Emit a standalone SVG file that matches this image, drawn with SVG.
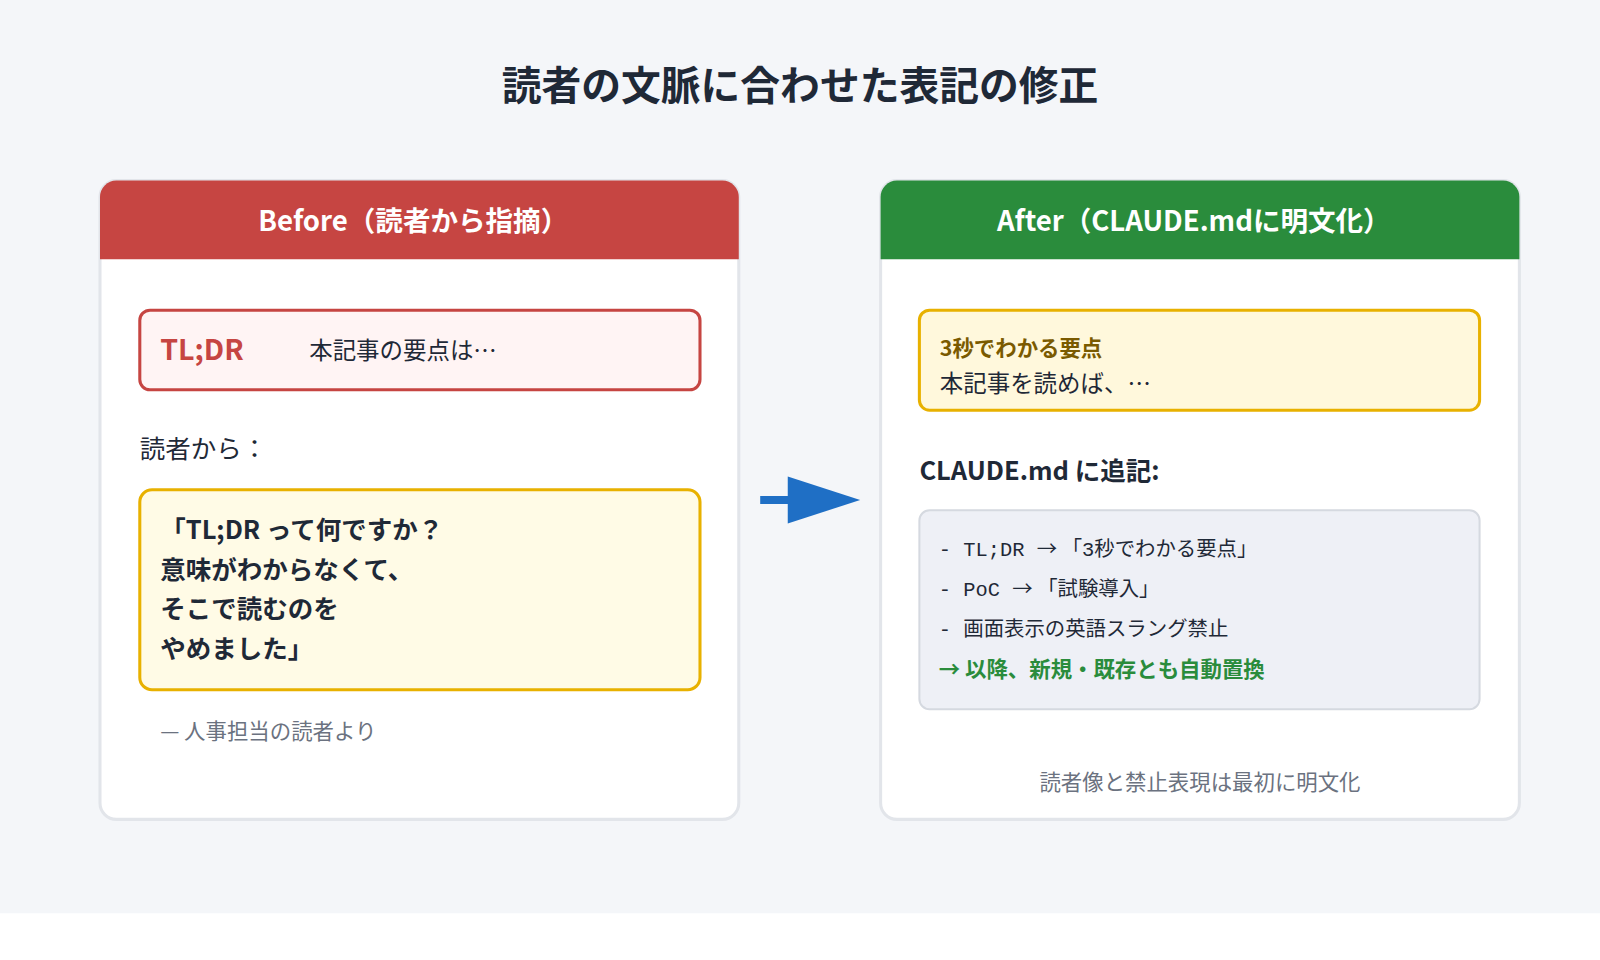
<svg xmlns="http://www.w3.org/2000/svg" width="1600" height="960" viewBox="0 0 1600 960">
<style>
text{font-family:"Noto Sans CJK JP","Noto Sans",sans-serif;fill:#1f2937}
.mono{font-family:"Liberation Mono","Noto Sans CJK JP",monospace}
.ar{font-family:"Noto Sans CJK JP",sans-serif}
.b{font-weight:700}
</style>
<rect width="1600" height="960" fill="#f4f6f9"/>
<g transform="scale(1.0204)">
<rect y="895" width="1600" height="80" fill="#ffffff"/>
<text x="784" y="98" text-anchor="middle" font-size="39" class="b">読者の文脈に合わせた表記の修正</text>
<g id="before">
<rect x="98" y="177" width="626" height="626" rx="16" fill="#fff" stroke="#e2e5ea" stroke-width="3"/>
<path d="M98 254 V193 a16 16 0 0 1 16 -16 H708 a16 16 0 0 1 16 16 V254 Z" fill="#c64542"/>
<text x="405" y="226" text-anchor="middle" font-size="27" class="b" style="fill:#fff">Before（読者から指摘）</text>
<rect x="137" y="304" width="549" height="78" rx="10" fill="#fff4f4" stroke="#c64542" stroke-width="3"/>
<text x="157" y="353" font-size="28" class="b" style="fill:#c64542">TL;DR</text>
<text x="303" y="352" font-size="23">本記事の要点は…</text>
<text x="137" y="449" font-size="25">読者から：</text>
<rect x="137" y="480" width="549" height="196" rx="12" fill="#fffbe6" stroke="#e8b100" stroke-width="3"/>
<text font-size="25" class="b"><tspan x="157" y="528">「TL;DR って何ですか？</tspan><tspan x="157" y="567">意味がわからなくて、</tspan><tspan x="157" y="606">そこで読むのを</tspan><tspan x="157" y="645">やめました」</tspan></text>
<text x="157" y="724" font-size="21" style="fill:#6b7280">— 人事担当の読者より</text>
</g>
<g id="connectors">
<line x1="745" y1="490" x2="800" y2="490" stroke="#1f6fc5" stroke-width="8"/>
<polygon points="772,467 843,490 772,513" fill="#1f6fc5"/>
</g>
<g id="after">
<rect x="863" y="177" width="626" height="626" rx="16" fill="#fff" stroke="#e2e5ea" stroke-width="3"/>
<path d="M863 254 V193 a16 16 0 0 1 16 -16 H1473 a16 16 0 0 1 16 16 V254 Z" fill="#2a8c3c"/>
<text x="1170" y="226" text-anchor="middle" font-size="27" class="b" style="fill:#fff">After（CLAUDE.mdに明文化）</text>
<rect x="901" y="304" width="549" height="98" rx="10" fill="#fff8dc" stroke="#e8b100" stroke-width="3"/>
<text x="921" y="349" font-size="21" class="b" style="fill:#7a5a00">3秒でわかる要点</text>
<text x="921" y="384" font-size="23">本記事を読めば、…</text>
<text x="901" y="470" font-size="25" class="b">CLAUDE.md に追記:</text>
<rect x="901" y="500" width="549" height="195" rx="10" fill="#eef0f6" stroke="#d5d9e0" stroke-width="2"/>
<text class="mono" font-size="20" x="920" y="545">- TL;DR <tspan class="ar">→ </tspan> 「3秒でわかる要点」</text>
<text class="mono" font-size="20" x="920" y="584">- PoC <tspan class="ar">→ </tspan> 「試験導入」</text>
<text class="mono" font-size="20" x="920" y="623">- 画面表示の英語スラング禁止</text>
<text font-size="21" x="920" y="663" class="b" style="fill:#2a8c3c">→  以降、新規・既存とも自動置換</text>
<text x="1176" y="774" text-anchor="middle" font-size="21" style="fill:#6b7280">読者像と禁止表現は最初に明文化</text>
</g>
</g>
</svg>
